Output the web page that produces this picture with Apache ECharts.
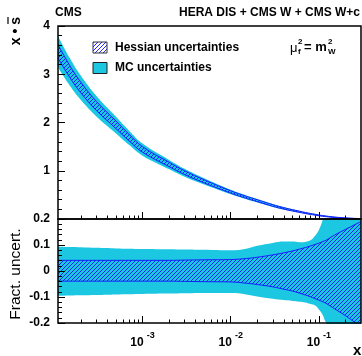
<!DOCTYPE html>
<html>
<head>
<meta charset="utf-8">
<script src="https://cdn.jsdelivr.net/npm/echarts@6/dist/echarts.min.js"></script>
<style>
html, body { margin: 0; padding: 0; background: #fff; }
#main { width: 362px; height: 356px; }
</style>
</head>
<body>
<div id="main"></div>
<script>
// x points (Bjorken x) shared by every curve
const xPoints = [1.1e-4, 1.5e-4, 2e-4, 3e-4, 5e-4, 7e-4, 1e-3, 2e-3, 3e-3, 5e-3,
  0.01, 0.015, 0.02, 0.03, 0.04, 0.05, 0.06, 0.07, 0.08, 0.09, 0.1, 0.11, 0.12, 0.15, 0.2, 0.3];
// central x*sbar
const xsCentral = [3.47, 3.05, 2.72, 2.34, 1.95, 1.69, 1.44, 1.13, 0.96, 0.78,
  0.56, 0.45, 0.38, 0.28, 0.22, 0.18, 0.15, 0.125, 0.105, 0.09, 0.075, 0.064, 0.055, 0.036, 0.02, 0.006];
// fractional uncertainties
const mcUp = [0.093, 0.092, 0.091, 0.089, 0.087, 0.086, 0.085, 0.084, 0.083, 0.082,
  0.080, 0.086, 0.097, 0.108, 0.113, 0.113, 0.111, 0.112, 0.118, 0.135, 0.158, 0.195, 0.235, 0.27, 0.29, 0.3];
const mcLow = [-0.095, -0.094, -0.093, -0.092, -0.090, -0.089, -0.088, -0.087, -0.086, -0.085,
  -0.085, -0.090, -0.098, -0.107, -0.112, -0.115, -0.118, -0.121, -0.127, -0.132, -0.148, -0.168, -0.198, -0.25, -0.28, -0.3];
const hesUp = [0.041, 0.041, 0.041, 0.041, 0.041, 0.041, 0.041, 0.041, 0.042, 0.043,
  0.044, 0.048, 0.053, 0.062, 0.070, 0.077, 0.084, 0.090, 0.096, 0.102, 0.107, 0.113, 0.118, 0.138, 0.16, 0.19];
const hesLow = [-0.039, -0.039, -0.039, -0.039, -0.039, -0.039, -0.039, -0.039, -0.040, -0.041,
  -0.042, -0.047, -0.052, -0.061, -0.070, -0.077, -0.085, -0.092, -0.099, -0.106, -0.112, -0.118, -0.124, -0.145, -0.172, -0.215];

const xMin = 1.1e-4, xMax = 0.3;
const majorX = [-3, -2, -1];
const minorX = [];
for (let n = -4; n <= -1; n++) {
  for (let k = 2; k <= 9; k++) {
    const v = Math.log10(k * Math.pow(10, n));
    if (v > Math.log10(xMin) && v < Math.log10(xMax)) minorX.push(v);
  }
}

const FONT = 'Liberation Sans, Arial, Helvetica, sans-serif';
const CYAN = '#1cc7e1';
const BLUE = '#1a1aff';

// hatch pattern for the Hessian band
const hatch = document.createElement('canvas');
hatch.width = 4; hatch.height = 4;
(function () {
  const ctx = hatch.getContext('2d');
  ctx.strokeStyle = '#1010ff';
  ctx.lineWidth = 0.9;
  ctx.beginPath();
  ctx.moveTo(0, 4); ctx.lineTo(4, 0);
  ctx.moveTo(-1, 1); ctx.lineTo(1, -1);
  ctx.moveTo(3, 5); ctx.lineTo(5, 3);
  ctx.stroke();
})();
const hatchFill = { image: hatch, repeat: 'repeat' };

// data given as [y, log10 x] so that the stack runs on y
function band(stack, xi, yi, lo, hi, fill, edge) {
  const lx = xPoints.map(x => Math.log10(x));
  const line = edge ? { color: BLUE, width: 1 } : { opacity: 0 };
  const common = { type: 'line', stack: stack, stackStrategy: 'all', xAxisIndex: xi, yAxisIndex: yi,
    symbol: 'none', smooth: 0.4, encode: { x: 1, y: 0 }, lineStyle: line };
  return [
    Object.assign({}, common, { data: lx.map((x, i) => [lo[i], x]) }),
    Object.assign({}, common, { areaStyle: { color: fill, opacity: 1 },
      data: lx.map((x, i) => [hi[i] - lo[i], x]) })
  ];
}

const topMcLo = xsCentral.map((c, i) => c * (1 + mcLow[i]));
const topMcHi = xsCentral.map((c, i) => c * (1 + mcUp[i]));
const topHLo = xsCentral.map((c, i) => c * (1 + hesLow[i]));
const topHHi = xsCentral.map((c, i) => c * (1 + hesUp[i]));

function xAx(grid, major, labels) {
  return {
    gridIndex: grid, type: 'value', position: 'bottom',
    min: Math.log10(xMin), max: Math.log10(xMax), z: 5,
    axisLine: { show: false, onZero: false }, splitLine: { show: false },
    axisTick: { inside: true, length: major ? 7 : 3.5, customValues: major ? majorX : minorX,
      lineStyle: { color: '#000', width: 1 } },
    axisLabel: labels ? {
      customValues: majorX, margin: 8,
      formatter: v => '{b|10}{s|' + Math.round(v) + '}',
      rich: {
        b: { fontFamily: FONT, fontWeight: 'bold', fontSize: 12, color: '#000', verticalAlign: 'bottom', lineHeight: 18 },
        s: { fontFamily: FONT, fontWeight: 'bold', fontSize: 9, color: '#000', verticalAlign: 'top', padding: [0, 0, 0, 3], lineHeight: 18 }
      }
    } : { show: false }
  };
}

function yAx(grid, min, max, interval, fmt) {
  return {
    gridIndex: grid, type: 'value', position: 'left', min: min, max: max, interval: interval, z: 5,
    axisLine: { show: false, onZero: false }, splitLine: { show: false },
    axisTick: { inside: true, length: 7, lineStyle: { color: '#000' } },
    minorTick: { show: true, splitNumber: 5, length: 4, lineStyle: { color: '#000' } },
    axisLabel: { margin: 8, color: '#000', fontFamily: FONT, fontWeight: 'bold', fontSize: 12, formatter: fmt }
  };
}

const chart = echarts.init(document.getElementById('main'));
chart.setOption({
  animation: false,
  grid: [
    { left: 58, top: 26, width: 303, height: 193 },
    { left: 58, top: 219, width: 303, height: 104 }
  ],
  xAxis: [xAx(0, true, false), xAx(0, false, false), xAx(1, true, true), xAx(1, false, false)],
  yAxis: [
    yAx(0, 0, 4, 1, v => (v === 0 ? '' : String(v))),
    yAx(1, -0.2, 0.2, 0.1, v => (Math.abs(v) < 1e-9 ? '0' : String(+v.toFixed(1))))
  ],
  series: [].concat(
    band('mcTop', 0, 0, topMcLo, topMcHi, CYAN, false),
    band('hTop', 0, 0, topHLo, topHHi, hatchFill, true),
    band('mcBot', 2, 1, mcLow, mcUp, CYAN, false),
    band('hBot', 2, 1, hesLow, hesUp, hatchFill, true)
  ),
  graphic: [
    { type: 'rect', z: 100, shape: { x: 58, y: 26, width: 303, height: 193 },
      style: { fill: 'transparent', stroke: '#000', lineWidth: 1.5 } },
    { type: 'rect', z: 100, shape: { x: 58, y: 219, width: 303, height: 104 },
      style: { fill: 'transparent', stroke: '#000', lineWidth: 1.5 } },
    { type: 'text', x: 55, y: 13, style: { text: 'CMS', font: 'bold 12px ' + FONT, fill: '#000', verticalAlign: 'middle' } },
    { type: 'text', x: 360, y: 13, style: { text: 'HERA DIS + CMS W + CMS W+c', font: 'bold 12px ' + FONT, fill: '#000', align: 'right', verticalAlign: 'middle' } },
    { type: 'text', x: 16, y: 31, rotation: Math.PI / 2,
      style: { text: 'x \u2022 s', font: 'bold 14px ' + FONT, fill: '#000', align: 'center', verticalAlign: 'middle' } },
    { type: 'line', shape: { x1: 8, y1: 17, x2: 8, y2: 24 }, style: { stroke: '#000', lineWidth: 1.2 } },
    { type: 'text', x: 16, y: 274, rotation: Math.PI / 2,
      style: { text: 'Fract. uncert.', font: '15.5px ' + FONT, fill: '#000', align: 'center', verticalAlign: 'middle' } },
    { type: 'text', x: 353, y: 351, style: { text: 'x', font: 'bold 15px ' + FONT, fill: '#000', verticalAlign: 'middle' } },
    { type: 'rect', z: 10, shape: { x: 93, y: 42, width: 14, height: 11 },
      style: { fill: hatchFill, stroke: '#334', lineWidth: 1 } },
    { type: 'text', x: 115, y: 47.5, style: { text: 'Hessian uncertainties', font: 'bold 12px ' + FONT, fill: '#000', verticalAlign: 'middle' } },
    { type: 'rect', z: 10, shape: { x: 93, y: 62.5, width: 14, height: 11 },
      style: { fill: CYAN, stroke: '#222', lineWidth: 1 } },
    { type: 'text', x: 115, y: 68, style: { text: 'MC uncertainties', font: 'bold 12px ' + FONT, fill: '#000', verticalAlign: 'middle' } },
    { type: 'text', x: 290, y: 48, style: { text: '\u03bc', font: '13px ' + FONT, fill: '#000', verticalAlign: 'middle' } },
    { type: 'text', x: 298, y: 42, style: { text: '2', font: 'bold 8px ' + FONT, fill: '#000', verticalAlign: 'middle' } },
    { type: 'text', x: 298, y: 52, style: { text: 'f', font: 'bold 8px ' + FONT, fill: '#000', verticalAlign: 'middle' } },
    { type: 'text', x: 304, y: 47.5, style: { text: '= m', font: 'bold 13px ' + FONT, fill: '#000', verticalAlign: 'middle' } },
    { type: 'text', x: 328, y: 42, style: { text: '2', font: 'bold 8px ' + FONT, fill: '#000', verticalAlign: 'middle' } },
    { type: 'text', x: 328, y: 52, style: { text: 'W', font: 'bold 8px ' + FONT, fill: '#000', verticalAlign: 'middle' } }
  ]
});
</script>
</body>
</html>
